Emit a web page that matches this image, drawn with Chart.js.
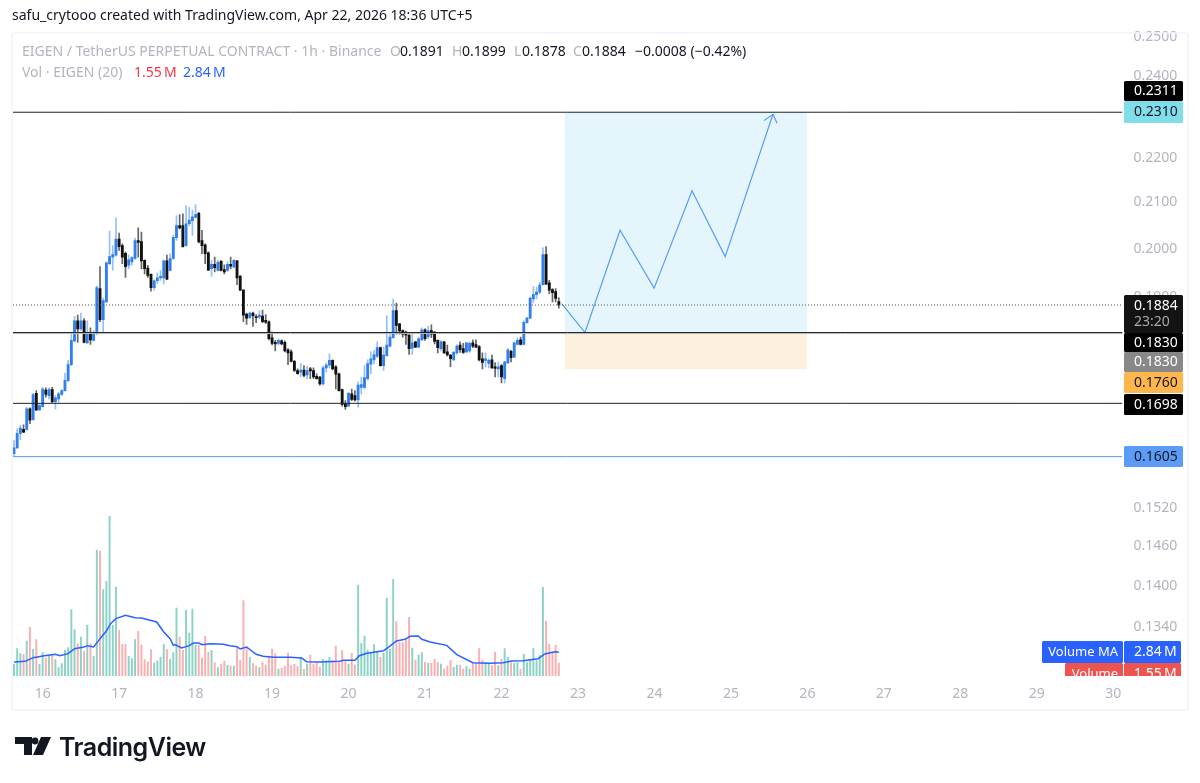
<!DOCTYPE html>
<html>
<head>
<meta charset="utf-8">
<title>EIGEN / TetherUS</title>
<script src="https://cdn.jsdelivr.net/npm/chart.js@4"></script>
<style>
  html, body { margin: 0; padding: 0; background: #fff; }
  body { width: 1200px; height: 783px; position: relative; overflow: hidden; font-family: "Noto Sans", sans-serif; }
  #chart { position: absolute; left: 0; top: 0; }
  .t { position: absolute; white-space: pre; font-size: 14px; line-height: 18px; color: #131722; }
  .g { color: #b2b5be; }
  #brand { position: absolute; left: 59px; top: 732px; font: 600 25px Inter, sans-serif; letter-spacing: -0.5px; color: #131722; }
  #mark { position: absolute; left: 14px; top: 736px; }
</style>
</head>
<body>
<canvas id="chart" width="1200" height="783"></canvas>

<div class="t" style="left:12px;top:6px">safu_crytooo created with TradingView.com, Apr 22, 2026 18:36 UTC+5</div>
<div class="t g" style="left:22px;top:42px">EIGEN / TetherUS PERPETUAL CONTRACT · 1h · Binance</div>
<div class="t g" style="left:390px;top:42px">O</div><div class="t" style="left:400px;top:42px">0.1891</div>
<div class="t g" style="left:452px;top:42px">H</div><div class="t" style="left:462px;top:42px">0.1899</div>
<div class="t g" style="left:514px;top:42px">L</div><div class="t" style="left:522px;top:42px">0.1878</div>
<div class="t g" style="left:573px;top:42px">C</div><div class="t" style="left:582px;top:42px">0.1884</div>
<div class="t" style="left:635px;top:42px">−0.0008 (−0.42%)</div>
<div class="t g" style="left:22px;top:63px">Vol · EIGEN (20)</div>
<div class="t" style="left:134px;top:63px;color:#f23645">1.55&#8239;M</div>
<div class="t" style="left:183px;top:63px;color:#2962ff">2.84&#8239;M</div>

<svg id="mark" width="38" height="20" viewBox="0 0 38 20">
  <path d="M1 1H18V19H10V8H1Z M27 1H37L29 19H19Z" fill="#131722"/>
  <circle cx="21" cy="5" r="3.4" fill="#131722"/>
</svg>
<div id="brand">TradingView</div>

<script>
// hourly candles
const opens = [
  0.1610,0.1620,0.1645,0.1652,0.1652,0.1688,0.1669,0.1716,0.1686,0.1692,0.1722,0.1712,0.1723,0.1701,0.1706,0.1714,0.1721,0.1739,0.1769,0.1814,
  0.1853,0.1837,0.1853,0.1810,0.1829,0.1815,0.1828,0.1917,0.1855,0.1890,0.1968,0.1982,0.1986,0.2020,0.2006,0.1990,0.1965,0.1972,0.1979,0.2017,
  0.2015,0.1975,0.1959,0.1946,0.1919,0.1933,0.1939,0.1939,0.1974,0.1954,0.1979,0.2023,0.2049,0.2049,0.2006,0.2053,0.2060,0.2067,0.2076,0.2017,
  0.2008,0.1991,0.1958,0.1967,0.1954,0.1973,0.1956,0.1954,0.1967,0.1961,0.1974,0.1942,0.1914,0.1866,0.1859,0.1868,0.1861,0.1860,0.1862,0.1854,
  0.1851,0.1820,0.1811,0.1809,0.1814,0.1811,0.1797,0.1793,0.1775,0.1758,0.1755,0.1759,0.1750,0.1761,0.1758,0.1747,0.1746,0.1733,0.1763,0.1768,
  0.1777,0.1765,0.1752,0.1723,0.1697,0.1693,0.1715,0.1712,0.1704,0.1727,0.1727,0.1743,0.1770,0.1778,0.1785,0.1801,0.1767,0.1786,0.1804,0.1820,
  0.1873,0.1847,0.1834,0.1831,0.1825,0.1800,0.1812,0.1802,0.1816,0.1835,0.1822,0.1834,0.1831,0.1815,0.1799,0.1812,0.1793,0.1787,0.1778,0.1791,
  0.1806,0.1799,0.1793,0.1795,0.1810,0.1807,0.1803,0.1780,0.1777,0.1771,0.1778,0.1765,0.1761,0.1767,0.1743,0.1772,0.1794,0.1783,0.1807,0.1816,
  0.1807,0.1849,0.1858,0.1896,0.1905,0.1910,0.1925,0.1987,0.1929,0.1915,0.1911,0.1891
];
const highs = [
  0.1633,0.1653,0.1659,0.1660,0.1691,0.1690,0.1716,0.1721,0.1697,0.1727,0.1726,0.1726,0.1727,0.1712,0.1718,0.1723,0.1753,0.1777,0.1828,0.1861,
  0.1864,0.1868,0.1857,0.1853,0.1839,0.1834,0.1922,0.1962,0.1898,0.1972,0.2037,0.2006,0.2066,0.2033,0.2010,0.1993,0.1986,0.1983,0.2022,0.2044,
  0.2035,0.1976,0.1965,0.1947,0.1935,0.1949,0.1954,0.1976,0.1986,0.1989,0.2028,0.2071,0.2073,0.2075,0.2093,0.2089,0.2083,0.2095,0.2078,0.2039,
  0.2010,0.1993,0.1975,0.1982,0.1975,0.1975,0.1966,0.1972,0.1982,0.1977,0.1975,0.1944,0.1915,0.1868,0.1870,0.1870,0.1865,0.1872,0.1874,0.1865,
  0.1853,0.1831,0.1815,0.1818,0.1816,0.1814,0.1799,0.1797,0.1777,0.1761,0.1771,0.1767,0.1766,0.1764,0.1763,0.1752,0.1747,0.1766,0.1772,0.1789,
  0.1778,0.1767,0.1753,0.1724,0.1703,0.1718,0.1724,0.1721,0.1737,0.1746,0.1767,0.1778,0.1793,0.1796,0.1812,0.1802,0.1802,0.1863,0.1828,0.1896,
  0.1888,0.1848,0.1835,0.1833,0.1826,0.1828,0.1813,0.1821,0.1839,0.1837,0.1842,0.1845,0.1832,0.1816,0.1814,0.1813,0.1806,0.1788,0.1794,0.1807,
  0.1812,0.1809,0.1811,0.1812,0.1816,0.1816,0.1805,0.1791,0.1791,0.1780,0.1787,0.1773,0.1774,0.1769,0.1775,0.1799,0.1796,0.1812,0.1820,0.1821,
  0.1853,0.1860,0.1900,0.1921,0.1920,0.1930,0.2002,0.2004,0.1934,0.1917,0.1917,0.1899
];
const lows = [
  0.1607,0.1619,0.1634,0.1646,0.1650,0.1662,0.1668,0.1685,0.1685,0.1691,0.1709,0.1706,0.1699,0.1688,0.1700,0.1712,0.1720,0.1737,0.1767,0.1812,
  0.1811,0.1834,0.1810,0.1809,0.1807,0.1814,0.1826,0.1851,0.1831,0.1889,0.1966,0.1955,0.1984,0.1996,0.1968,0.1940,0.1958,0.1965,0.1977,0.1982,
  0.1958,0.1947,0.1940,0.1912,0.1914,0.1927,0.1934,0.1927,0.1935,0.1953,0.1977,0.2017,0.2042,0.2003,0.2005,0.2049,0.2028,0.2066,0.2012,0.1989,
  0.1968,0.1954,0.1942,0.1951,0.1953,0.1953,0.1947,0.1952,0.1958,0.1960,0.1925,0.1913,0.1851,0.1846,0.1857,0.1842,0.1849,0.1857,0.1849,0.1847,
  0.1816,0.1806,0.1795,0.1806,0.1806,0.1793,0.1769,0.1774,0.1756,0.1751,0.1746,0.1746,0.1743,0.1743,0.1743,0.1742,0.1731,0.1731,0.1755,0.1763,
  0.1759,0.1724,0.1720,0.1693,0.1687,0.1692,0.1703,0.1702,0.1691,0.1715,0.1724,0.1740,0.1752,0.1770,0.1782,0.1766,0.1758,0.1785,0.1802,0.1819,
  0.1827,0.1827,0.1821,0.1807,0.1788,0.1788,0.1801,0.1801,0.1815,0.1815,0.1818,0.1820,0.1808,0.1791,0.1795,0.1790,0.1785,0.1765,0.1777,0.1788,
  0.1792,0.1790,0.1791,0.1792,0.1801,0.1801,0.1776,0.1761,0.1764,0.1763,0.1762,0.1746,0.1746,0.1735,0.1735,0.1771,0.1774,0.1782,0.1806,0.1806,
  0.1806,0.1848,0.1857,0.1888,0.1896,0.1907,0.1924,0.1925,0.1907,0.1890,0.1890,0.1878
];
const closes = [
  0.1620,0.1645,0.1654,0.1647,0.1688,0.1668,0.1714,0.1686,0.1694,0.1724,0.1714,0.1723,0.1701,0.1708,0.1715,0.1721,0.1740,0.1769,0.1815,0.1853,
  0.1837,0.1853,0.1811,0.1829,0.1816,0.1828,0.1919,0.1855,0.1893,0.1970,0.1983,0.1987,0.2020,0.2004,0.1982,0.1962,0.1976,0.1981,0.2017,0.2013,
  0.1974,0.1958,0.1944,0.1919,0.1933,0.1939,0.1942,0.1974,0.1936,0.1979,0.2024,0.2049,0.2044,0.2004,0.2053,0.2061,0.2068,0.2073,0.2014,0.2006,
  0.1989,0.1955,0.1967,0.1960,0.1971,0.1954,0.1951,0.1967,0.1963,0.1975,0.1939,0.1914,0.1864,0.1858,0.1868,0.1863,0.1859,0.1864,0.1851,0.1850,
  0.1818,0.1809,0.1808,0.1815,0.1808,0.1795,0.1791,0.1775,0.1758,0.1752,0.1759,0.1749,0.1758,0.1757,0.1746,0.1743,0.1733,0.1763,0.1768,0.1777,
  0.1761,0.1751,0.1721,0.1696,0.1692,0.1716,0.1705,0.1704,0.1731,0.1732,0.1745,0.1771,0.1780,0.1788,0.1801,0.1767,0.1787,0.1806,0.1821,0.1873,
  0.1844,0.1833,0.1827,0.1825,0.1799,0.1810,0.1802,0.1818,0.1835,0.1818,0.1834,0.1827,0.1813,0.1801,0.1812,0.1791,0.1787,0.1780,0.1792,0.1804,
  0.1797,0.1792,0.1810,0.1809,0.1804,0.1802,0.1778,0.1773,0.1780,0.1777,0.1763,0.1762,0.1765,0.1746,0.1774,0.1797,0.1782,0.1810,0.1815,0.1807,
  0.1850,0.1858,0.1898,0.1905,0.1910,0.1924,0.1987,0.1926,0.1914,0.1909,0.1897,0.1884
];

// volume in millions
const volumes = [
  1.40,3.28,2.68,2.60,4.20,5.80,3.20,4.36,1.40,2.80,2.16,2.48,2.48,1.96,1.00,1.48,3.08,3.40,7.96,5.56,
  3.88,4.68,2.96,6.12,3.88,2.36,15.08,15.00,10.36,11.36,19.16,6.08,10.68,5.48,3.80,3.80,2.36,2.08,4.36,5.36,
  3.72,1.96,1.68,3.16,1.56,1.80,2.28,3.80,3.16,2.00,2.80,8.16,4.68,3.08,7.88,5.16,8.04,3.68,3.68,2.16,
  4.76,2.84,3.04,1.60,1.00,1.40,1.80,1.28,1.20,1.20,3.40,1.88,9.04,3.48,2.28,1.48,1.16,1.00,1.68,1.32,
  2.40,3.24,2.68,0.80,0.92,1.20,2.76,1.24,1.40,1.16,2.12,0.84,1.44,2.52,1.44,1.60,1.08,2.00,1.84,2.24,
  1.92,3.60,1.60,3.08,1.72,1.44,2.72,1.32,10.92,3.92,4.80,3.12,2.80,3.76,2.92,2.24,2.72,9.36,3.20,11.60,
  6.52,4.00,4.00,4.52,7.04,3.36,1.92,2.52,2.80,1.64,1.52,1.52,2.04,1.64,1.44,0.84,1.20,1.84,1.04,1.32,
  1.32,0.84,1.12,0.84,1.52,1.52,3.28,1.92,1.60,1.40,1.24,2.88,1.24,2.00,3.28,2.24,1.60,1.52,1.60,0.80,
  2.60,1.60,2.00,3.28,1.84,2.48,10.64,6.60,3.84,2.92,3.68,1.55
];

// volume MA vertices: bar position, value in millions
const maBars = [0,3.5,6,9,13,14.4,17,19,22,23,25,27,29,30.3,32,35,38,40,44.8,47,49,50,50.5,52.6,55,56.3,58,59,61.5,65.7,67.8,70,71,73,76,78.2,81.4,86.6,90.3,91.8,96,102.3,103.4,107,108.4,110.7,116,117.5,120,122.7,124.3,126.9,128,130.6,135.8,139,144,149.4,153.6,156.2,159.8,164.5,166.6,169.8,171];
const maValues = [1.68,1.76,2.20,2.40,2.60,2.44,2.68,3.28,3.48,3.64,3.48,4.48,5.40,6.28,6.88,7.28,7.00,6.96,6.48,5.28,4.48,3.68,3.76,3.36,3.64,3.96,3.96,3.76,3.88,3.80,3.64,3.52,3.24,3.48,2.60,2.36,2.24,2.24,2.16,1.72,1.68,1.76,1.88,1.88,2.44,2.72,3.04,3.44,4.20,4.40,4.76,4.80,4.40,4.08,3.68,2.56,1.60,1.52,1.60,1.80,1.84,2.08,2.64,2.92,2.84];

// drawn projection path, bar position and price
const pathBars = [171.9,179.2,190.2,200.9,212.8,223.2,238.2];
const pathPrices = [0.1887,0.1830,0.2039,0.1918,0.2126,0.1983,0.2305];
const arrowBars = [235.4,238.2,239.5];
const arrowPrices = [0.2290,0.2305,0.2283];

// price levels
const targetPrice = 0.2310;
const entryPrice = 0.1830;
const stopPrice = 0.1760;
const lastPrice = 0.1884;
const supportPrice = 0.1698;
const lowPrice = 0.1605;
const boxBars = [172.9, 248.9];

// axis labels
const priceTicks = [0.25, 0.24, 0.22, 0.21, 0.20, 0.19, 0.152, 0.146, 0.14, 0.134];
const dayLabels = ['16','17','18','19','20','21','22','23','24','25','26','27','28','29','30'];
const dayBars = [9,33,57,81,105,129,153,177,201,225,249,273,297,321,345];

const xMin = -0.31;
const xMax = 347.9;

const barIndex = opens.map((o, i) => i);
const isUp = opens.map((o, i) => closes[i] >= o);

function level(price) {
  return [{ x: xMin, y: price }, { x: xMax, y: price }];
}

function lineSet(data, color, width, dash) {
  return {
    type: 'line', data: data, borderColor: color, borderWidth: width, borderDash: dash || [],
    pointRadius: 0, tension: 0, yAxisID: 'y', order: 1
  };
}

// position boxes, pane frame and the badges on the price axis
const frameAndBadges = {
  id: 'frameAndBadges',
  beforeDatasetsDraw(chart) {
    const ctx = chart.ctx, x = chart.scales.x, y = chart.scales.y;
    const left = x.getPixelForValue(boxBars[0]), right = x.getPixelForValue(boxBars[1]);
    ctx.save();
    ctx.fillStyle = '#e4f6fb';
    ctx.fillRect(left, y.getPixelForValue(targetPrice), right - left, y.getPixelForValue(entryPrice) - y.getPixelForValue(targetPrice));
    ctx.fillStyle = '#fdf0de';
    ctx.fillRect(left, y.getPixelForValue(entryPrice), right - left, y.getPixelForValue(stopPrice) - y.getPixelForValue(entryPrice));
    ctx.restore();
  },
  afterDraw(chart) {
    const ctx = chart.ctx;
    ctx.save();
    ctx.strokeStyle = '#f0f3fa';
    ctx.lineWidth = 1.5;
    ctx.beginPath();
    ctx.roundRect(12, 33, 1176, 677, 2);
    ctx.stroke();

    ctx.font = '14px "Noto Sans", sans-serif';
    ctx.textBaseline = 'middle';
    function badge(x, top, w, h, bg, fg, text, textX, align) {
      ctx.fillStyle = bg;
      ctx.beginPath();
      ctx.roundRect(x, top, w, h, 1.5);
      ctx.fill();
      ctx.fillStyle = fg;
      ctx.textAlign = align || 'left';
      ctx.fillText(text, textX, top + h / 2 + 0.5);
      ctx.textAlign = 'left';
    }
    badge(1124, 81, 59, 20, '#000000', '#ffffff', '0.2311', 1134);
    badge(1124, 101, 59, 22, '#80deea', '#131722', '0.2310', 1134);
    badge(1124, 295, 59, 38, '#131313', '#ffffff', '', 1134);
    ctx.fillStyle = '#ffffff';
    ctx.fillText('0.1884', 1134, 306);
    ctx.fillStyle = '#a8a8a8';
    ctx.fillText('23:20', 1134, 322);
    badge(1124, 333, 59, 19, '#000000', '#ffffff', '0.1830', 1134);
    badge(1124, 352, 59, 20, '#888888', '#ffffff', '0.1830', 1134);
    badge(1124, 372, 59, 21, '#ffb74d', '#131722', '0.1760', 1134);
    badge(1124, 394, 59, 21, '#000000', '#ffffff', '0.1698', 1134);
    badge(1124, 446, 59, 21, '#5b9cf6', '#131722', '0.1605', 1134);

    ctx.font = '13px "Noto Sans", sans-serif';
    badge(1042, 641, 81, 22, '#2962ff', '#ffffff', 'Volume MA', 1118, 'right');
    ctx.font = '14px "Noto Sans", sans-serif';
    badge(1124, 641, 57, 22, '#2962ff', '#ffffff', '2.84\u202fM', 1134);
    ctx.beginPath();
    ctx.rect(1040, 663, 145, 13);
    ctx.clip();
    ctx.font = '13px "Noto Sans", sans-serif';
    badge(1065, 663, 58, 21, '#ef5350', '#ffffff', 'Volume', 1118, 'right');
    ctx.font = '14px "Noto Sans", sans-serif';
    badge(1124, 663, 57, 21, '#ef5350', '#ffffff', '1.55\u202fM', 1134);
    ctx.restore();
  }
};

new Chart(document.getElementById('chart').getContext('2d'), {
  data: {
    datasets: [
      lineSet(level(targetPrice), '#222222', 1),
      lineSet(level(lastPrice), '#555555', 1, [1, 2]),
      lineSet(level(entryPrice - 0.0002), '#b5b5b5', 1),
      lineSet(level(entryPrice), '#222222', 1),
      lineSet(level(supportPrice), '#222222', 1),
      lineSet(level(lowPrice), '#5b9cf6', 1),
      lineSet(pathBars.map((b, i) => ({ x: b, y: pathPrices[i] })), '#5b9cf6', 1.2),
      lineSet(arrowBars.map((b, i) => ({ x: b, y: arrowPrices[i] })), '#5b9cf6', 1.2),
      {
        type: 'line',
        data: maBars.map((b, i) => ({ x: b, y: maValues[i] })),
        borderColor: '#2962ff', borderWidth: 1.5, pointRadius: 0, tension: 0, yAxisID: 'vol', order: 2
      },
      {
        type: 'bar',
        data: barIndex.map(i => ({ x: i, y: [opens[i], closes[i]] })),
        backgroundColor: isUp.map(u => (u ? '#2f7ff0' : '#111111')),
        barThickness: 2.2, grouped: false, yAxisID: 'y', order: 3
      },
      {
        type: 'bar',
        data: barIndex.map(i => ({ x: i, y: [lows[i], highs[i]] })),
        backgroundColor: isUp.map(u => (u ? 'rgba(91,156,246,0.65)' : 'rgba(50,50,50,0.75)')),
        barThickness: 1, grouped: false, yAxisID: 'y', order: 4
      },
      {
        type: 'bar',
        data: barIndex.map(i => ({ x: i, y: volumes[i] })),
        backgroundColor: isUp.map(u => (u ? '#8dd2c6' : '#fab0b0')),
        barThickness: 1.3, grouped: false, yAxisID: 'vol', order: 5
      }
    ]
  },
  options: {
    responsive: false,
    animation: false,
    devicePixelRatio: 1,
    layout: { autoPadding: false, padding: { left: 13, top: 33, right: 12, bottom: 73 } },
    plugins: { legend: { display: false }, tooltip: { enabled: false } },
    scales: {
      x: {
        type: 'linear',
        offset: false,
        min: xMin,
        max: xMax,
        grid: { display: false, drawTicks: false, offset: false },
        border: { display: false },
        afterBuildTicks: s => { s.ticks = dayBars.map(v => ({ value: v })); },
        afterFit: s => { s.height = 34; s.paddingLeft = 0; s.paddingRight = 0; },
        ticks: {
          autoSkip: false, maxRotation: 0, padding: 10, color: '#b2b5be',
          font: { size: 14, family: '"Noto Sans", sans-serif' },
          callback: (v, i) => dayLabels[i]
        }
      },
      y: {
        type: 'logarithmic',
        position: 'right',
        min: 0.12727,
        max: 0.25119,
        grid: { display: false, drawTicks: false },
        border: { display: false },
        afterBuildTicks: s => { s.ticks = priceTicks.map(v => ({ value: v })); },
        afterFit: s => { s.width = 65.5; s.paddingTop = 0; s.paddingBottom = 0; },
        ticks: {
          autoSkip: false, padding: 11, color: '#b2b5be',
          font: { size: 14, family: '"Noto Sans", sans-serif' },
          callback: v => Number(v).toFixed(4)
        }
      },
      vol: {
        type: 'linear',
        display: false,
        position: 'left',
        min: 0,
        max: 77.16
      }
    }
  },
  plugins: [frameAndBadges]
});
</script>
</body>
</html>
